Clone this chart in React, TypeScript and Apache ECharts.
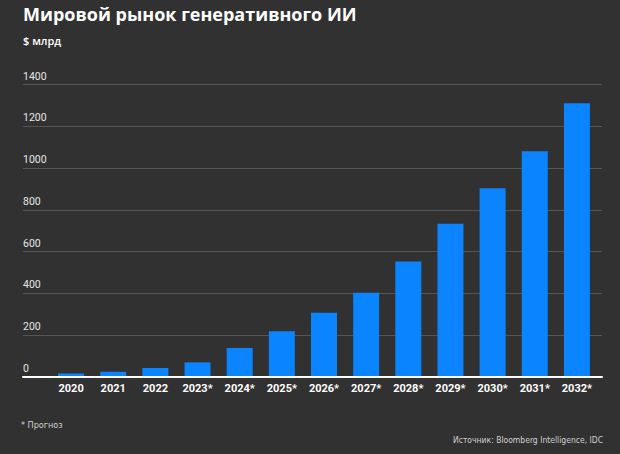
import React, { useEffect, useRef } from "react";
import * as echarts from "echarts";

const categories = ["2020", "2021", "2022", "2023*", "2024*", "2025*", "2026*", "2027*", "2028*", "2029*", "2030*", "2031*", "2032*"];
const marketValues = [17, 25, 43, 70, 139, 219, 307, 403, 553, 733, 903, 1081, 1310];
const yTicks = [0, 200, 400, 600, 800, 1000, 1200, 1400];

const titleText = "Мировой рынок генеративного ИИ";
const unitText = "$ млрд";
const noteText = "* Прогноз";
const sourceText = "Источник: Bloomberg Intelligence, IDC";

export default function App() {
  const ref = useRef<HTMLDivElement>(null);
  useEffect(() => {
    document.body.style.margin = "0";
    const chart = echarts.init(ref.current!, null, { renderer: "svg" });
    const yMax = yTicks[yTicks.length - 1];
    const yInterval = yTicks[1] - yTicks[0];
    chart.setOption({
      animation: false,
      backgroundColor: "#323131",
      grid: [
        { left: 50, right: 22, top: 84.5, bottom: 77 },
        { left: 23, right: 18, top: 84.5, bottom: 77 },
      ],
      xAxis: [
        {
          type: "category",
          gridIndex: 0,
          data: categories,
          axisLine: { show: false },
          axisTick: { show: false },
          axisLabel: {
            color: "#ffffff",
            fontSize: 11,
            fontWeight: "bold",
            fontFamily: "Roboto",
            margin: 6,
          },
        },
        {
          type: "value",
          gridIndex: 1,
          min: 0,
          max: 1,
          axisLine: { show: true, lineStyle: { color: "#ffffff", width: 2 } },
          axisTick: { show: false },
          axisLabel: { show: false },
          splitLine: { show: false },
          z: 10,
        },
      ],
      yAxis: [
        {
          type: "value",
          gridIndex: 0,
          min: 0,
          max: yMax,
          interval: yInterval,
          show: false,
        },
        {
          type: "value",
          gridIndex: 1,
          min: 0,
          max: yMax,
          interval: yInterval,
          axisLine: { show: false },
          axisTick: { show: false },
          splitLine: { show: true, lineStyle: { color: "#565555", width: 1 } },
          axisLabel: {
            inside: true,
            margin: 0,
            align: "left",
            verticalAlign: "bottom",
            padding: [0, 0, 3, 0],
            color: "#e6e6e6",
            fontSize: 10.5,
            fontFamily: "Roboto",
            formatter: (v: number) => String(v),
          },
        },
      ],
      series: [
        {
          type: "bar",
          xAxisIndex: 0,
          yAxisIndex: 0,
          data: marketValues,
          barWidth: 26,
          itemStyle: { color: "#0a84ff" },
          z: 2,
        },
      ],
      graphic: [
        {
          type: "text",
          left: 23,
          top: 5,
          style: {
            text: titleText,
            fill: "#ffffff",
            font: "bold 18px 'Open Sans'",
          },
        },
        {
          type: "text",
          left: 23,
          top: 35,
          style: {
            text: unitText,
            fill: "#ffffff",
            font: "600 11px 'Open Sans'",
          },
        },
        {
          type: "text",
          left: 21,
          top: 420,
          style: {
            text: noteText,
            fill: "#d0d0d0",
            font: "9px 'Liberation Sans Narrow', 'DejaVu Sans Condensed', sans-serif",
          },
        },
        {
          type: "text",
          right: 17,
          top: 435,
          style: {
            text: sourceText,
            fill: "#d0d0d0",
            font: "8.5px 'Liberation Sans Narrow', 'DejaVu Sans Condensed', sans-serif",
          },
        },
      ],
    });
    return () => chart.dispose();
  }, []);
  return <div ref={ref} style={{ width: 620, height: 454 }} />;
}
